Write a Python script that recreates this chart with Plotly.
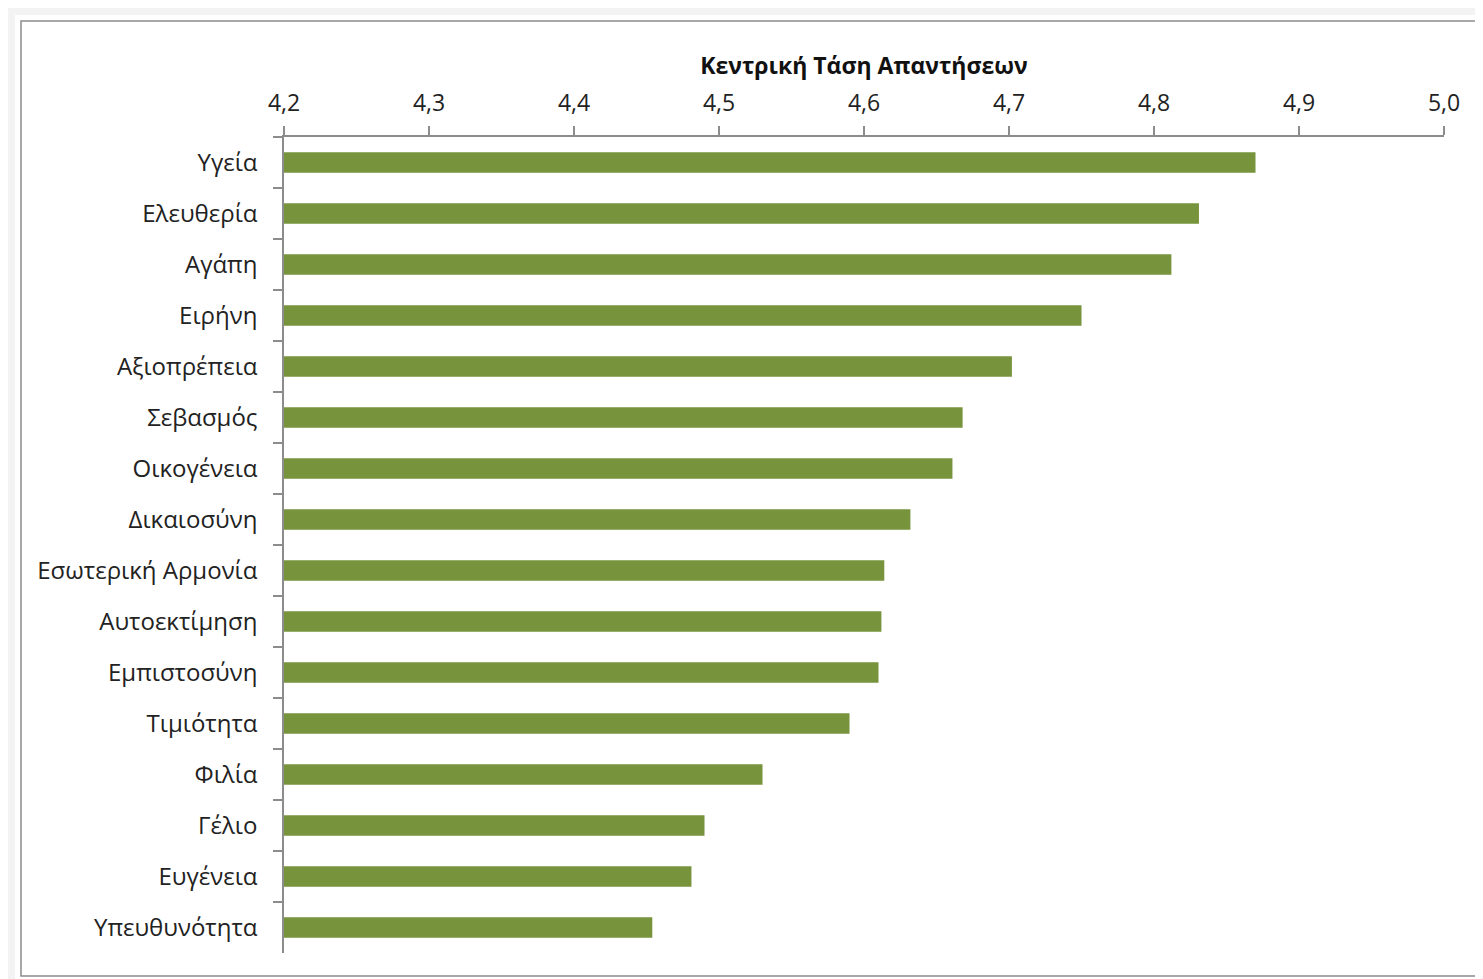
import plotly.graph_objects as go

categories = ["Υγεία", "Ελευθερία", "Αγάπη", "Ειρήνη", "Αξιοπρέπεια", "Σεβασμός",
              "Οικογένεια", "Δικαιοσύνη", "Εσωτερική Αρμονία", "Αυτοεκτίμηση",
              "Εμπιστοσύνη", "Τιμιότητα", "Φιλία", "Γέλιο", "Ευγένεια", "Υπευθυνότητα"]
values = [4.870, 4.831, 4.812, 4.750, 4.702, 4.668, 4.661, 4.632, 4.614, 4.612,
          4.610, 4.590, 4.530, 4.490, 4.481, 4.454]
tick_vals = [4.2, 4.3, 4.4, 4.5, 4.6, 4.7, 4.8, 4.9, 5.0]
tick_text = ["4,2", "4,3", "4,4", "4,5", "4,6", "4,7", "4,8", "4,9", "5,0"]
axis_title = "Κεντρική Τάση Απαντήσεων"

OFF = 8  # default body margin of the page
W, H = 1483 - OFF, 979 - OFF
FONT = "Open Sans"

# plot area in page pixels
PX0, PX1, PY0, PY1 = 284, 1444, 137, 953


def px(x):
    return (x - PX0) / (PX1 - PX0)


def py(y):
    return (PY1 - y) / (PY1 - PY0)


fig = go.Figure(go.Bar(
    x=values, y=categories, orientation="h",
    marker=dict(color="#77933C", line=dict(width=0)),
))

shapes = [
    dict(type="rect", xref="paper", yref="paper", x0=px(15), x1=px(1500), y0=py(1000), y1=py(15),
         fillcolor="#ffffff", line=dict(width=0), layer="below"),
    dict(type="rect", xref="paper", yref="paper", x0=px(21), x1=px(1495), y0=py(976), y1=py(21),
         fillcolor="rgba(0,0,0,0)", line=dict(color="#8c8c8c", width=1.5), layer="below"),
]

fig.update_layout(
    width=W, height=H,
    margin=dict(l=PX0 - OFF, r=W - (PX1 - OFF), t=PY0 - OFF, b=H - (PY1 - OFF)),
    paper_bgcolor="#f3f3f3", plot_bgcolor="rgba(0,0,0,0)",
    font=dict(family=FONT, size=24, color="#222222"),
    bargap=0.6,
    showlegend=False,
    shapes=shapes,
    xaxis=dict(
        side="top", range=[4.2, 5.0], tickvals=tick_vals, ticktext=tick_text,
        showgrid=False, zeroline=False, showline=True, linecolor="#8c8c8c", linewidth=1.5,
        ticks="outside", ticklen=9, tickcolor="#8c8c8c", tickwidth=1.5,
        tickfont=dict(family=FONT, size=23, color="#222222"),
        ticklabelstandoff=6,
        title=dict(text="<b>" + axis_title + "</b>", font=dict(family=FONT, size=23, color="#111111"),
                   standoff=5),
    ),
    yaxis=dict(
        autorange="reversed", showgrid=False, zeroline=False, showline=True,
        linecolor="#8c8c8c", linewidth=1.5,
        ticks="outside", ticklen=9, tickcolor="#8c8c8c", tickwidth=1.5, tickson="boundaries",
        tickfont=dict(family=FONT, size=24, color="#222222"),
        ticklabelstandoff=20,
    ),
)

fig.write_html("out.html")
